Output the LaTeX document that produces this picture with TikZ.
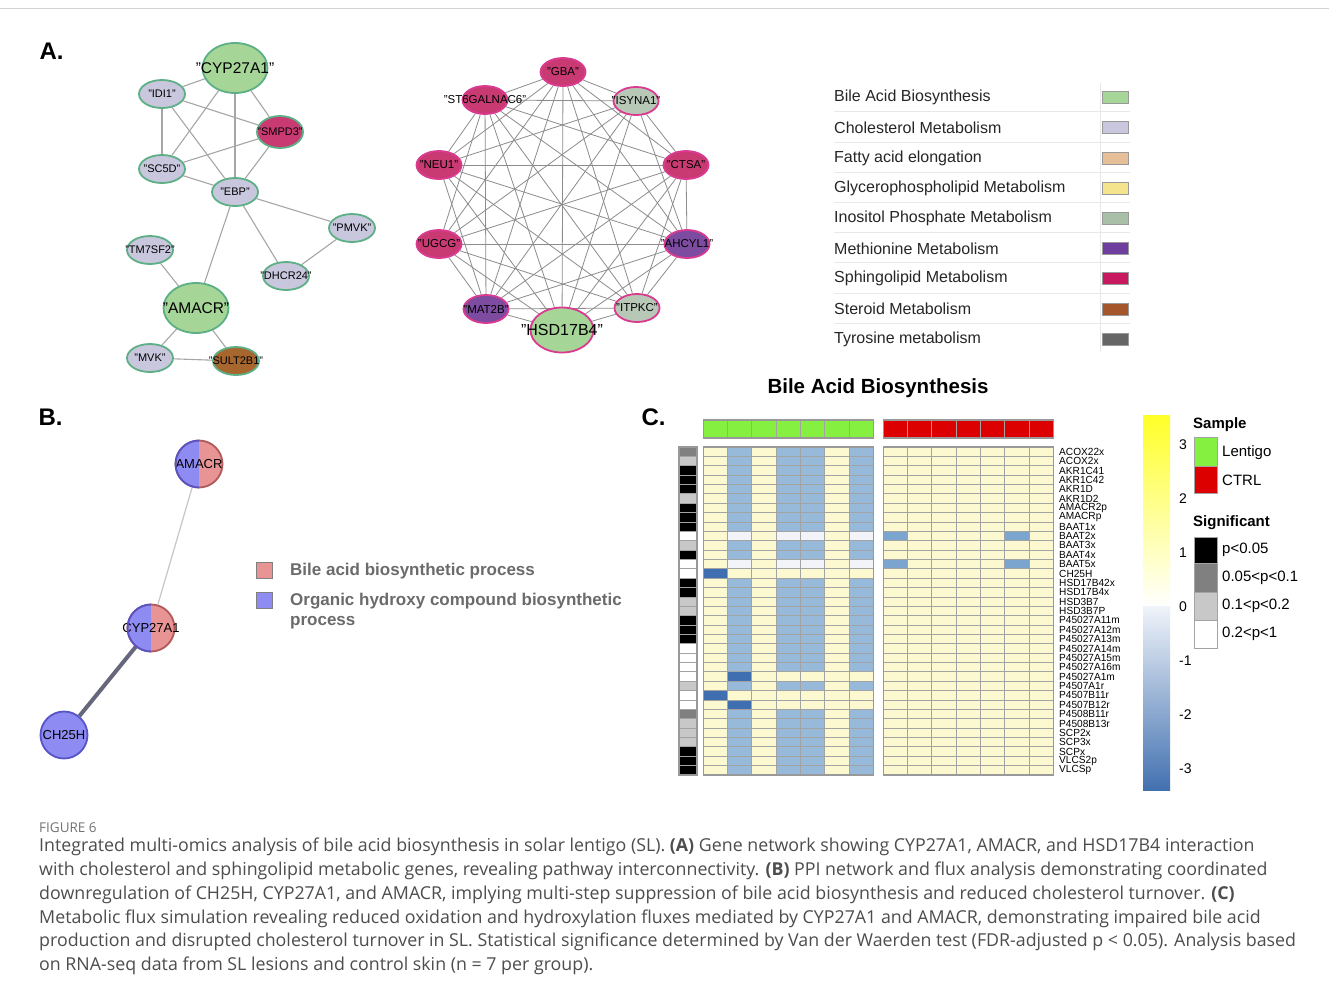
\documentclass[tikz,border=0pt]{standalone}
\usepackage{fontspec}
\setmainfont{Liberation Sans}
\newfontfamily\capfont{Open Sans}
\usetikzlibrary{shapes.geometric}
\pgfdeclarelayer{bg}
\pgfsetlayers{bg,main}
\newcommand{\setfs}[1]{\fontsize{#1}{#1}\selectfont}
\newcommand{\nolen}[1]{\makebox[0pt]{#1}}
\definecolor{bilegreen}{HTML}{A5D597}
\definecolor{cholfill}{HTML}{C9C7DD}
\definecolor{fattyfill}{HTML}{E6BE98}
\definecolor{glycfill}{HTML}{F5E48E}
\definecolor{inosfill}{HTML}{A9BFA7}
\definecolor{methfill}{HTML}{6E3F9E}
\definecolor{sphfill}{HTML}{C8185F}
\definecolor{sterfill}{HTML}{A5572B}
\definecolor{tyrfill}{HTML}{666666}
\definecolor{sphnode}{HTML}{C93A72}
\definecolor{methnode}{HTML}{7D4CA0}
\definecolor{inosnode}{HTML}{B8C8B6}
\definecolor{sternode}{HTML}{A8662F}
\definecolor{greenline}{HTML}{5DAF86}
\definecolor{pinkline}{HTML}{DA3A90}
\definecolor{bblue}{HTML}{8E8CF2}
\definecolor{bblueline}{HTML}{5654C8}
\definecolor{bred}{HTML}{E89494}
\definecolor{bredline}{HTML}{B05A5A}
\definecolor{hmcream}{HTML}{FCF8D0}
\definecolor{hmblue}{HTML}{97BADA}
\definecolor{hmwhite}{HTML}{F3F4FA}
\definecolor{hmdark}{HTML}{3F6FB0}
\definecolor{hmmid}{HTML}{7BA4CE}
\definecolor{hmgrid}{HTML}{A3A3A3}
\definecolor{sgd}{HTML}{808080}
\definecolor{sgl}{HTML}{C8C8C8}
\definecolor{lentigo}{HTML}{86F040}
\definecolor{ctrl}{HTML}{DD0000}
\definecolor{capgray}{HTML}{4D4D4D}
\tikzset{
  gone/.style={ellipse, draw=greenline, line width=1.8pt, fill=cholfill, inner sep=0pt,
    minimum width=46pt, minimum height=28pt, font=\setfs{11}},
  gtwo/.style={ellipse, draw=pinkline, line width=1.8pt, fill=sphnode, inner sep=0pt,
    minimum width=45pt, minimum height=28pt, font=\setfs{11.5}},
  big/.style={minimum width=65pt, minimum height=50pt, font=\setfs{15.5}},
  edgeA/.style={draw=gray!70, line width=1.1pt},
  edgeB/.style={draw=gray!90, line width=0.8pt},
  bnode/.style={circle, minimum size=47pt, inner sep=0pt, line width=1.8pt, font=\setfs{13}},
  halves/.style={path picture={
    \fill[bblue] (path picture bounding box.south west) rectangle (path picture bounding box.north);
    \fill[bred] (path picture bounding box.south) rectangle (path picture bounding box.north east);}},
  hcell/.style={draw=hmgrid, line width=0.9pt},
  rowlab/.style={anchor=west, inner sep=0pt, font=\setfs{11.5}},
  hleg/.style={anchor=west, inner sep=0pt, font=\setfs{15}},
  capline/.style={anchor=base west, inner sep=0pt, font=\capfont\setfs{17.8}, text=capgray}
}
\begin{document}
\begin{tikzpicture}[x=1pt,y=-1pt]
\useasboundingbox (0,0) rectangle (1329,997);
\begin{pgfonlayer}{bg}
\fill[white] (0,0) rectangle (1329,997);
\end{pgfonlayer}
\draw[gray!35, line width=1pt] (0,8) -- (1329,8);

\node[anchor=west, font=\bfseries\setfs{24}] (labA) at (36,51) {A.};
\node[anchor=west, font=\bfseries\setfs{24}] (labB) at (35,417) {B.};
\node[anchor=west, font=\bfseries\setfs{24}] (labC) at (638,417) {C.};

\node[gone, big, fill=bilegreen] (cyp) at (235,68) {\nolen{"CYP27A1"}};
\node[gone] (idi) at (162,94) {\nolen{"IDI1"}};
\node[gone, fill=sphnode, minimum height=32pt] (smpd) at (280,132) {\nolen{"SMPD3"}};
\node[gone] (sc5d) at (162,169) {\nolen{"SC5D"}};
\node[gone] (ebp) at (235,192) {\nolen{"EBP"}};
\node[gone] (pmvk) at (352,228) {\nolen{"PMVK"}};
\node[gone] (tm7) at (150,250) {\nolen{"TM7SF2"}};
\node[gone] (dhcr) at (286,276) {\nolen{"DHCR24"}};
\node[gone, big, fill=bilegreen] (amacr) at (196,308) {\nolen{"AMACR"}};
\node[gone] (mvk) at (150,358) {\nolen{"MVK"}};
\node[gone, fill=sternode] (sult) at (236,361) {\nolen{"SULT2B1"}};

\node[gtwo] (gba) at (563,72) {\nolen{"GBA"}};
\node[gtwo] (st6) at (485,100) {\nolen{"ST6GALNAC6"}};
\node[gtwo, fill=inosnode] (isy) at (636,101) {\nolen{"ISYNA1"}};
\node[gtwo] (neu) at (439,165) {\nolen{"NEU1"}};
\node[gtwo] (ctsa) at (686,165) {\nolen{"CTSA"}};
\node[gtwo] (ugcg) at (439,244) {\nolen{"UGCG"}};
\node[gtwo, fill=methnode] (ahc) at (687,244) {\nolen{"AHCYL1"}};
\node[gtwo, fill=methnode] (mat) at (486,309) {\nolen{"MAT2B"}};
\node[gtwo, fill=inosnode] (itp) at (637,308) {\nolen{"ITPKC"}};
\node[gtwo, fill=bilegreen, minimum width=63pt, minimum height=45pt, font=\setfs{16}] (hsd) at (562,330) {\nolen{"HSD17B4"}};

\begin{pgfonlayer}{bg}
\foreach \a/\b in {cyp/idi, cyp/smpd, cyp/sc5d, cyp/ebp, idi/smpd, idi/sc5d, idi/ebp,
  smpd/sc5d, smpd/ebp, sc5d/ebp, ebp/pmvk, ebp/dhcr, ebp/amacr, pmvk/dhcr,
  tm7/amacr, amacr/mvk, amacr/sult, mvk/sult}
  \draw[edgeA] (\a) -- (\b);
\foreach \a/\b in {gba/isy, gba/ctsa, gba/ahc, gba/itp, gba/hsd, gba/mat, gba/ugcg, gba/neu, gba/st6,
  isy/ctsa, isy/ahc, isy/hsd, isy/mat, isy/ugcg, isy/neu, isy/st6,
  ctsa/ahc, ctsa/itp, ctsa/hsd, ctsa/mat, ctsa/ugcg, ctsa/neu, ctsa/st6,
  ahc/itp, ahc/hsd, ahc/mat, ahc/ugcg, ahc/neu, ahc/st6,
  itp/hsd, itp/mat, itp/ugcg, itp/neu, itp/st6,
  hsd/mat, hsd/ugcg, hsd/neu, hsd/st6,
  mat/ugcg, mat/neu, mat/st6, ugcg/st6, neu/st6}
  \draw[edgeB] (\a) -- (\b);
\end{pgfonlayer}

\draw[gray!18, line width=1pt] (1100,83) -- (1100,352);
\foreach \i in {1,...,8}
  \draw[gray!18, line width=1pt] (834,{96.7+(\i-0.5)*30.2}) -- (1130,{96.7+(\i-0.5)*30.2});
\foreach \t/\clr [count=\i] in {Bile Acid Biosynthesis/bilegreen, Cholesterol Metabolism/cholfill,
  Fatty acid elongation/fattyfill, Glycerophospholipid Metabolism/glycfill,
  Inositol Phosphate Metabolism/inosfill, Methionine Metabolism/methfill,
  Sphingolipid Metabolism/sphfill, Steroid Metabolism/sterfill, Tyrosine metabolism/tyrfill}
{
  \node[anchor=west, inner sep=0pt, font=\setfs{16}, text=black!85] (leg\i) at (834,{97.5+(\i-1)*30.2}) {\t};
  \draw[gray!80, fill=\clr, line width=0.6pt] (1102,{91.5+(\i-1)*30.2}) rectangle ++(26,12);
}

\node[bnode, halves, draw=bredline] (bamacr) at (199,464) {\nolen{AMACR}};
\node[bnode, halves, draw=bredline] (bcyp) at (151,628) {\nolen{CYP27A1}};
\node[bnode, fill=bblue, draw=bblueline] (bch) at (64,735) {\nolen{CH25H}};
\foreach \n in {bamacr,bcyp}
{
  \begin{scope}
  \clip ([xshift=-30pt,yshift=30pt]\n.center) rectangle ([yshift=-30pt]\n.center);
  \node[bnode, draw=bblueline] (\n-b) at (\n.center) {};
  \end{scope}
}
\begin{pgfonlayer}{bg}
\draw[gray!45, line width=1.2pt] (bamacr) -- (bcyp);
\draw[black!55!blue!20!gray, line width=4pt] (bcyp) -- (bch);
\end{pgfonlayer}

\draw[gray, fill=bred, line width=0.8pt] (256,562) rectangle ++(16,16);
\draw[gray, fill=bblue, line width=0.8pt] (256,592) rectangle ++(16,16);
\node[anchor=west, inner sep=0pt, font=\bfseries\setfs{17}, text=black!58] (bleg1) at (290,571) {Bile acid biosynthetic process};
\node[anchor=west, inner sep=0pt, font=\bfseries\setfs{17}, text=black!58, align=left] (bleg2) at (290,611)
  {Organic hydroxy compound biosynthetic\\[3pt]process};

\node[font=\bfseries\setfs{20.5}] (htitle) at (878,388) {Bile Acid Biosynthesis};

\foreach \c in {1,...,7} {
  \draw[hcell, fill=lentigo] ({703.3+(\c-1)*24.286},420) rectangle ++(24.286,18);
  \draw[hcell, fill=ctrl] ({883.3+(\c-1)*24.286},420) rectangle ++(24.286,18);
}

\foreach \lab/\sg [count=\r] in {ACOX22x/sgd, ACOX2x/sgl, AKR1C41/black, AKR1C42/black, AKR1D/black,
  AKR1D2/sgl, AMACR2p/black, AMACRp/black, BAAT1x/black, BAAT2x/white, BAAT3x/sgl, BAAT4x/black,
  BAAT5x/white, CH25H/white, HSD17B42x/black, HSD17B4x/black, HSD3B7/sgl, HSD3B7P/sgl,
  P45027A11m/black, P45027A12m/black, P45027A13m/black, P45027A14m/white, P45027A15m/white,
  P45027A16m/white, P45027A1m/white, P4507A1r/sgl, P4507B11r/white, P4507B12r/white,
  P4508B11r/sgd, P4508B13r/sgl, SCP2x/sgl, SCP3x/sgl, SCPx/black, VLCS2p/black, VLCSp/black}
{
  \pgfmathsetmacro{\yt}{447+(\r-1)*9.371}
  \draw[hcell, fill=\sg] (679,\yt) rectangle ++(18,9.371);
  \foreach \c/\clr in {1/hmcream,2/hmblue,3/hmcream,4/hmblue,5/hmblue,6/hmcream,7/hmblue}
    \draw[hcell, fill=\clr] ({703.3+(\c-1)*24.286},\yt) rectangle ++(24.286,9.371);
  \foreach \c in {1,...,7}
    \draw[hcell, fill=hmcream] ({883.3+(\c-1)*24.286},\yt) rectangle ++(24.286,9.371);
  \node[rowlab] (rl\r) at (1059,\yt+4.7) {\scalebox{0.88}[0.9]{\lab}};
}
\foreach \c/\r/\clr in {2/10/hmwhite, 4/10/hmwhite, 5/10/hmwhite, 7/10/hmwhite,
  2/13/hmwhite, 4/13/hmwhite, 5/13/hmwhite, 7/13/hmwhite,
  1/14/hmdark, 2/14/hmcream, 4/14/hmcream, 5/14/hmcream, 7/14/hmcream,
  2/25/hmdark, 4/25/hmcream, 5/25/hmcream, 7/25/hmcream,
  1/27/hmdark, 2/27/hmcream, 4/27/hmcream, 5/27/hmcream, 7/27/hmcream,
  2/28/hmdark, 4/28/hmcream, 5/28/hmcream, 7/28/hmcream}
  \draw[hcell, fill=\clr] ({703.3+(\c-1)*24.286},{447+(\r-1)*9.371}) rectangle ++(24.286,9.371);
\foreach \c/\r in {1/10, 6/10, 1/13, 6/13}
  \draw[hcell, fill=hmmid] ({883.3+(\c-1)*24.286},{447+(\r-1)*9.371}) rectangle ++(24.286,9.371);
\draw[gray!80, line width=1.2pt] (703.3,420) rectangle (873.3,438);
\draw[gray!80, line width=1.2pt] (883.3,420) rectangle (1053.3,438);
\draw[gray!80, line width=1.2pt] (679,447) rectangle (697,775);
\draw[gray!80, line width=1.2pt] (703.3,447) rectangle (873.3,775);
\draw[gray!80, line width=1.2pt] (883.3,447) rectangle (1053.3,775);

\shade[top color={rgb,255:red,255;green,255;blue,40}, bottom color=white] (1143,415) rectangle (1170,606);
\shade[top color={rgb,255:red,240;green,244;blue,250}, bottom color={rgb,255:red,66;green,113;blue,176}] (1143,606) rectangle (1170,790);
\foreach \v [count=\i] in {3,2,1,0,-1,-2,-3}
  \node[hleg, font=\setfs{14}] (cb\i) at (1179,{445+(\i-1)*54}) {\v};

\node[hleg, font=\bfseries\setfs{15}] (samp) at (1193,425) {Sample};
\draw[hcell, fill=lentigo] (1194,437) rectangle (1217,466);
\draw[hcell, fill=ctrl] (1194,466) rectangle (1217,493);
\node[hleg] (slen) at (1222,453) {Lentigo};
\node[hleg] (sctrl) at (1222,480) {CTRL};
\node[hleg, font=\bfseries\setfs{15}] (sig) at (1193,523) {Significant};
\foreach \clr/\t/\ya/\yb [count=\i] in {black/p<0.05/537/563, sgd/0.05<p<0.1/563/592,
  sgl/0.1<p<0.2/592/620, white/0.2<p<1/620/648}
{
  \draw[hcell, fill=\clr] (1194,\ya) rectangle (1217,\yb);
  \node[hleg] (sg\i) at (1222,{(\ya+\yb)/2}) {\t};
}

\node[anchor=base west, inner sep=0pt, font=\capfont\setfs{13.5}, text=black!55] (fig) at (39,832) {FIGURE 6};
\node[capline] (cap1) at (39,851) {Integrated multi-omics analysis of bile acid biosynthesis in solar lentigo (SL). \textbf{(A)} Gene network showing CYP27A1, AMACR, and HSD17B4 interaction};
\node[capline] (cap2) at (39,875) {with cholesterol and sphingolipid metabolic genes, revealing pathway interconnectivity. \textbf{(B)} PPI network and flux analysis demonstrating coordinated};
\node[capline] (cap3) at (39,899) {downregulation of CH25H, CYP27A1, and AMACR, implying multi-step suppression of bile acid biosynthesis and reduced cholesterol turnover. \textbf{(C)}};
\node[capline] (cap4) at (39,923) {Metabolic flux simulation revealing reduced oxidation and hydroxylation fluxes mediated by CYP27A1 and AMACR, demonstrating impaired bile acid};
\node[capline] (cap5) at (39,946) {production and disrupted cholesterol turnover in SL. Statistical significance determined by Van der Waerden test (FDR-adjusted p < 0.05). Analysis based};
\node[capline] (cap6) at (39,970) {on RNA-seq data from SL lesions and control skin (n = 7 per group).};
\end{tikzpicture}
\end{document}
